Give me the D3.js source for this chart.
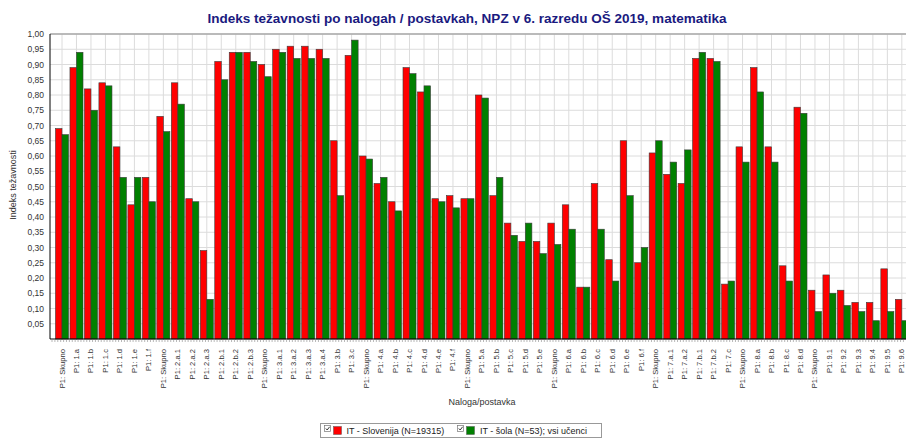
<!DOCTYPE html>
<html><head><meta charset="utf-8">
<script src="https://cdn.jsdelivr.net/npm/d3@7"></script>
<style>
body{margin:0;background:#fff;}
svg{display:block;font-family:Arial,"Liberation Sans",sans-serif;}
</style></head>
<body><svg id="c" width="906" height="439"></svg>
<script>
const categories = [
 "P1: Skupno","P1: 1.a","P1: 1.b","P1: 1.c","P1: 1.d","P1: 1.e","P1: 1.f",
 "P1: Skupno","P1: 2.a.1","P1: 2.a.2","P1: 2.a.3","P1: 2.b.1","P1: 2.b.2","P1: 2.b.3",
 "P1: Skupno","P1: 3.a.1","P1: 3.a.2","P1: 3.a.3","P1: 3.a.4","P1: 3.b","P1: 3.c",
 "P1: Skupno","P1: 4.a","P1: 4.b","P1: 4.c","P1: 4.d","P1: 4.e","P1: 4.f",
 "P1: Skupno","P1: 5.a","P1: 5.b","P1: 5.c","P1: 5.d","P1: 5.e",
 "P1: Skupno","P1: 6.a","P1: 6.b","P1: 6.c","P1: 6.d","P1: 6.e","P1: 6.f",
 "P1: Skupno","P1: 7.a.1","P1: 7.a.2","P1: 7.b.1","P1: 7.b.2","P1: 7.c",
 "P1: Skupno","P1: 8.a","P1: 8.b","P1: 8.c","P1: 8.d",
 "P1: Skupno","P1: 9.1","P1: 9.2","P1: 9.3","P1: 9.4","P1: 9.5","P1: 9.6"
];
const slovenija = [
 0.69,0.89,0.82,0.84,0.63,0.44,0.53,
 0.73,0.84,0.46,0.29,0.91,0.94,0.94,
 0.90,0.95,0.96,0.96,0.95,0.65,0.93,
 0.60,0.51,0.45,0.89,0.81,0.46,0.47,
 0.46,0.80,0.47,0.38,0.32,0.32,
 0.38,0.44,0.17,0.51,0.26,0.65,0.25,
 0.61,0.54,0.51,0.92,0.92,0.18,
 0.63,0.89,0.63,0.24,0.76,
 0.16,0.21,0.16,0.12,0.12,0.23,0.13
];
const sola = [
 0.67,0.94,0.75,0.83,0.53,0.53,0.45,
 0.68,0.77,0.45,0.13,0.85,0.94,0.91,
 0.86,0.94,0.92,0.92,0.92,0.47,0.98,
 0.59,0.53,0.42,0.87,0.83,0.45,0.43,
 0.46,0.79,0.53,0.34,0.38,0.28,
 0.31,0.36,0.17,0.36,0.19,0.47,0.30,
 0.65,0.58,0.62,0.94,0.91,0.19,
 0.58,0.81,0.58,0.19,0.74,
 0.09,0.15,0.11,0.09,0.06,0.09,0.06
];
const seriesNames = ["IT - Slovenija (N=19315)","IT - šola (N=53); vsi učenci"];
const seriesColors = ["#ff0000","#008000"];
const yTicks = d3.range(1,21).map(d=>d/20);
const title = "Indeks težavnosti po nalogah / postavkah, NPZ v 6. razredu OŠ 2019, matematika";

const svg = d3.select("#c");
const pTop = 34, pBottom = 339, pLeft = 50;
const step = 14.48;
const x = d3.scaleBand().domain(d3.range(categories.length))
  .range([62 - step/2, 62 - step/2 + step*categories.length]).padding(0);
const keys = ["slo","sola"];
const x1 = d3.scaleBand().domain(keys).range([0, x.bandwidth()]).paddingInner(0).paddingOuter(0.11);
const y = d3.scaleLinear().domain([0,1]).range([pBottom, pTop]);

// title
svg.append("text").attr("x",467).attr("y",23).attr("text-anchor","middle")
  .attr("font-size",13.5).attr("font-weight","bold").attr("fill","#1a1a80")
  .attr("textLength",519).attr("lengthAdjust","spacingAndGlyphs").text(title);

const plot = svg.append("g");
plot.selectAll("line.hg").data(yTicks).join("line").attr("class","hg")
  .attr("x1",pLeft).attr("x2",906).attr("y1",d=>y(d)).attr("y2",d=>y(d))
  .attr("stroke","#dcdcdc").attr("stroke-width",1);
plot.selectAll("line.vg").data(d3.range(categories.length)).join("line").attr("class","vg")
  .attr("x1",d=>x(d)+x.bandwidth()/2).attr("x2",d=>x(d)+x.bandwidth()/2)
  .attr("y1",pTop).attr("y2",pBottom).attr("stroke","#dcdcdc").attr("stroke-width",1);

const rows = categories.map((c,i)=>({i, slo:slovenija[i], sola:sola[i]}));
const g = plot.selectAll("g.cat").data(rows).join("g").attr("class","cat")
  .attr("transform",d=>`translate(${x(d.i)},0)`);
g.selectAll("rect").data(d=>keys.map((k,j)=>({k, v:d[k], j}))).join("rect")
  .attr("x",d=>x1(d.k)).attr("width",x1.bandwidth())
  .attr("y",d=>y(d.v)).attr("height",d=>y(0)-y(d.v))
  .attr("fill",d=>seriesColors[d.j]).attr("stroke","#3a3a3a").attr("stroke-width",0.6);

svg.append("line").attr("x1",pLeft).attr("x2",906).attr("y1",pTop).attr("y2",pTop)
  .attr("stroke","#a8a8a8").attr("stroke-width",1.5);

const yAxis = d3.axisLeft(y).tickValues(yTicks).tickSize(0).tickPadding(6)
  .tickFormat(d=>d3.format(".2f")(d).replace(".",","));
const ya = svg.append("g").attr("transform",`translate(${pLeft},0)`).call(yAxis);
ya.select(".domain").attr("stroke","#000").attr("d",`M0,${pTop}V${pBottom}`);
ya.selectAll("text").attr("font-size",8.5).attr("fill","#333").attr("font-family","Arial,'Liberation Sans',sans-serif");

svg.append("line").attr("x1",pLeft).attr("x2",906).attr("y1",pBottom).attr("y2",pBottom)
  .attr("stroke","#000").attr("stroke-width",1);
const minor = d3.range(pLeft+2, 906, step/5);
svg.selectAll("line.mt").data(minor).join("line").attr("class","mt")
  .attr("x1",d=>d).attr("x2",d=>d).attr("y1",pBottom+1).attr("y2",pBottom+3)
  .attr("stroke","#999").attr("stroke-width",0.7);

svg.selectAll("text.xl").data(categories.map((c,i)=>({c,i}))).join("text").attr("class","xl")
  .attr("transform",d=>`translate(${x(d.i)+x.bandwidth()/2+2.5},${pBottom+10}) rotate(-90)`)
  .attr("text-anchor","end").attr("font-size",7.6).attr("fill","#333").text(d=>d.c);

svg.append("text").attr("transform","translate(16,185) rotate(-90)").attr("text-anchor","middle")
  .attr("font-size",9).attr("fill","#333").text("Indeks težavnosti");
svg.append("text").attr("x",482).attr("y",405).attr("text-anchor","middle")
  .attr("font-size",9).attr("fill","#333").text("Naloga/postavka");

const lg = svg.append("g");
lg.append("rect").attr("x",320.5).attr("y",423.5).attr("width",281).attr("height",14)
  .attr("fill","#fff").attr("stroke","#999");
const legendX = [324, 457];
const textX = [346.5, 480];
seriesNames.forEach((n,i)=>{
  const bx = legendX[i];
  lg.append("rect").attr("x",bx+0.5).attr("y",425.5).attr("width",6).attr("height",6)
    .attr("fill","#fff").attr("stroke","#777").attr("stroke-width",0.7);
  lg.append("path").attr("d",`M${bx+1.8},${428.5}L${bx+3.2},${430}L${bx+5.6},${426.8}`)
    .attr("fill","none").attr("stroke","#222").attr("stroke-width",0.9);
  lg.append("rect").attr("x",bx+9.5).attr("y",426.5).attr("width",8).attr("height",8)
    .attr("fill",seriesColors[i]).attr("stroke","#555").attr("stroke-width",0.5);
  lg.append("text").attr("x",textX[i]).attr("y",433.5).attr("font-size",9).attr("fill","#222").text(n);
});
</script></body></html>
